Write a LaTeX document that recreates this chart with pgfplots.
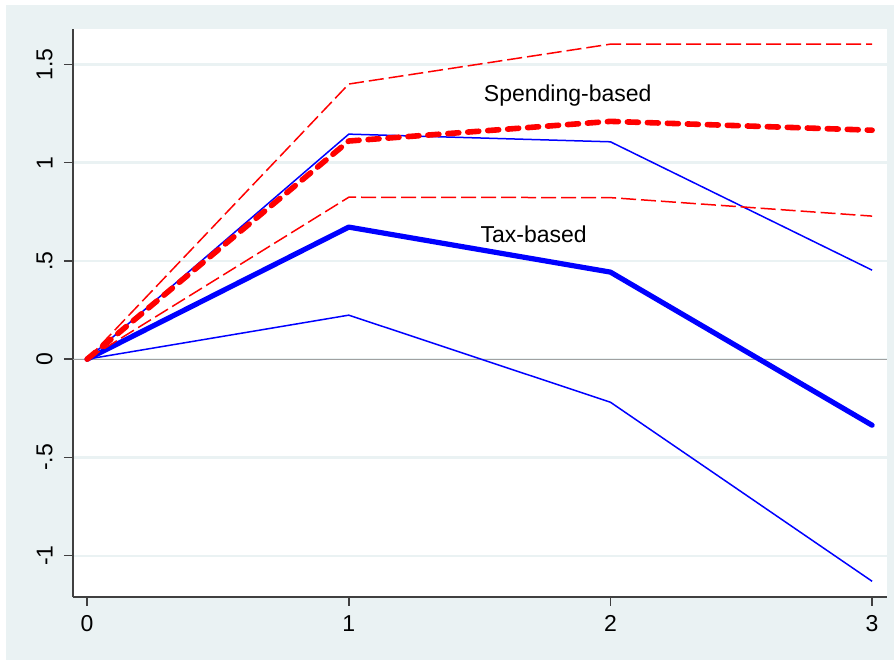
\documentclass[border=0pt]{standalone}
\usepackage{fontspec}
\setmainfont{Liberation Sans}
\usepackage{pgfplots}
\pgfplotsset{compat=1.18}
\definecolor{bgc}{HTML}{EAF2F3}
\definecolor{axc}{HTML}{404040}
\definecolor{zeroc}{HTML}{A0A0A0}
\begin{document}
\begin{tikzpicture}[font=\fontsize{11.5bp}{13.8bp}\selectfont]
\useasboundingbox (0,0) rectangle (448bp,331.5bp);
\fill[white] (0,0) rectangle (448bp,331.5bp);
\fill[bgc] (3bp,1.5bp) rectangle (447bp,329bp);
\fill[white] (36.5bp,33bp) rectangle (443.5bp,317bp);
\begin{axis}[
  at={(36.5bp,33bp)}, anchor=south west,
  scale only axis, width=407bp, height=284bp,
  xmin=-0.054, xmax=3.057, ymin=-1.21, ymax=1.68,
  axis x line*=bottom, axis y line*=left,
  axis line style={-, draw=axc, line width=0.75bp},
  tick align=outside,
  major tick length=4.5bp,
  tick style={draw=axc, line width=0.75bp},
  xtick={0,1,2,3}, xticklabels={0,1,2,3},
  ytick={-1,-0.5,0,0.5,1,1.5}, yticklabels={-1,-.5,0,.5,1,1.5},
  ymajorgrids, major grid style={draw=bgc, line width=1.2bp},
  ticklabel style={font=\fontsize{11.5bp}{13.8bp}\selectfont},
  yticklabel style={rotate=90, anchor=south, inner xsep=0pt, inner ysep=5.5bp},
  xticklabel style={anchor=north, inner xsep=0pt, inner ysep=4.5bp},
  clip=false,
]
\addplot[zeroc, line width=0.6bp] coordinates {(-0.054,0) (3.057,0)};
% Tax-based: point estimate and bands
\addplot[blue, line width=0.75bp, line join=round] coordinates {(0,0) (1,1.145) (2,1.106) (3,0.453)};
\addplot[blue, line width=0.75bp, line join=round] coordinates {(0,0) (1,0.224) (2,-0.219) (3,-1.13)};
\addplot[blue, line width=2.6bp, line join=round, line cap=round] coordinates {(0,0) (1,0.672) (2,0.443) (3,-0.336)};
% Spending-based: point estimate and bands
\addplot[red, line width=0.75bp, dash pattern=on 7.5bp off 2.5bp] coordinates {(0,0) (1,1.40) (2,1.603) (3,1.603)};
\addplot[red, line width=0.75bp, dash pattern=on 7.5bp off 2.5bp] coordinates {(0,0) (1,0.824) (2,0.822) (3,0.728)};
\addplot[red, line width=2.8bp, line cap=round, line join=round, dash pattern=on 5.5bp off 4.5bp] coordinates {(0,0) (1,1.11) (2,1.21) (3,1.165)};
\node[anchor=base west, inner sep=0pt] at (axis cs:1.515,1.309) {Spending-based};
\node[anchor=base west, inner sep=0pt] at (axis cs:1.502,0.595) {Tax-based};
\end{axis}
\end{tikzpicture}
\end{document}
